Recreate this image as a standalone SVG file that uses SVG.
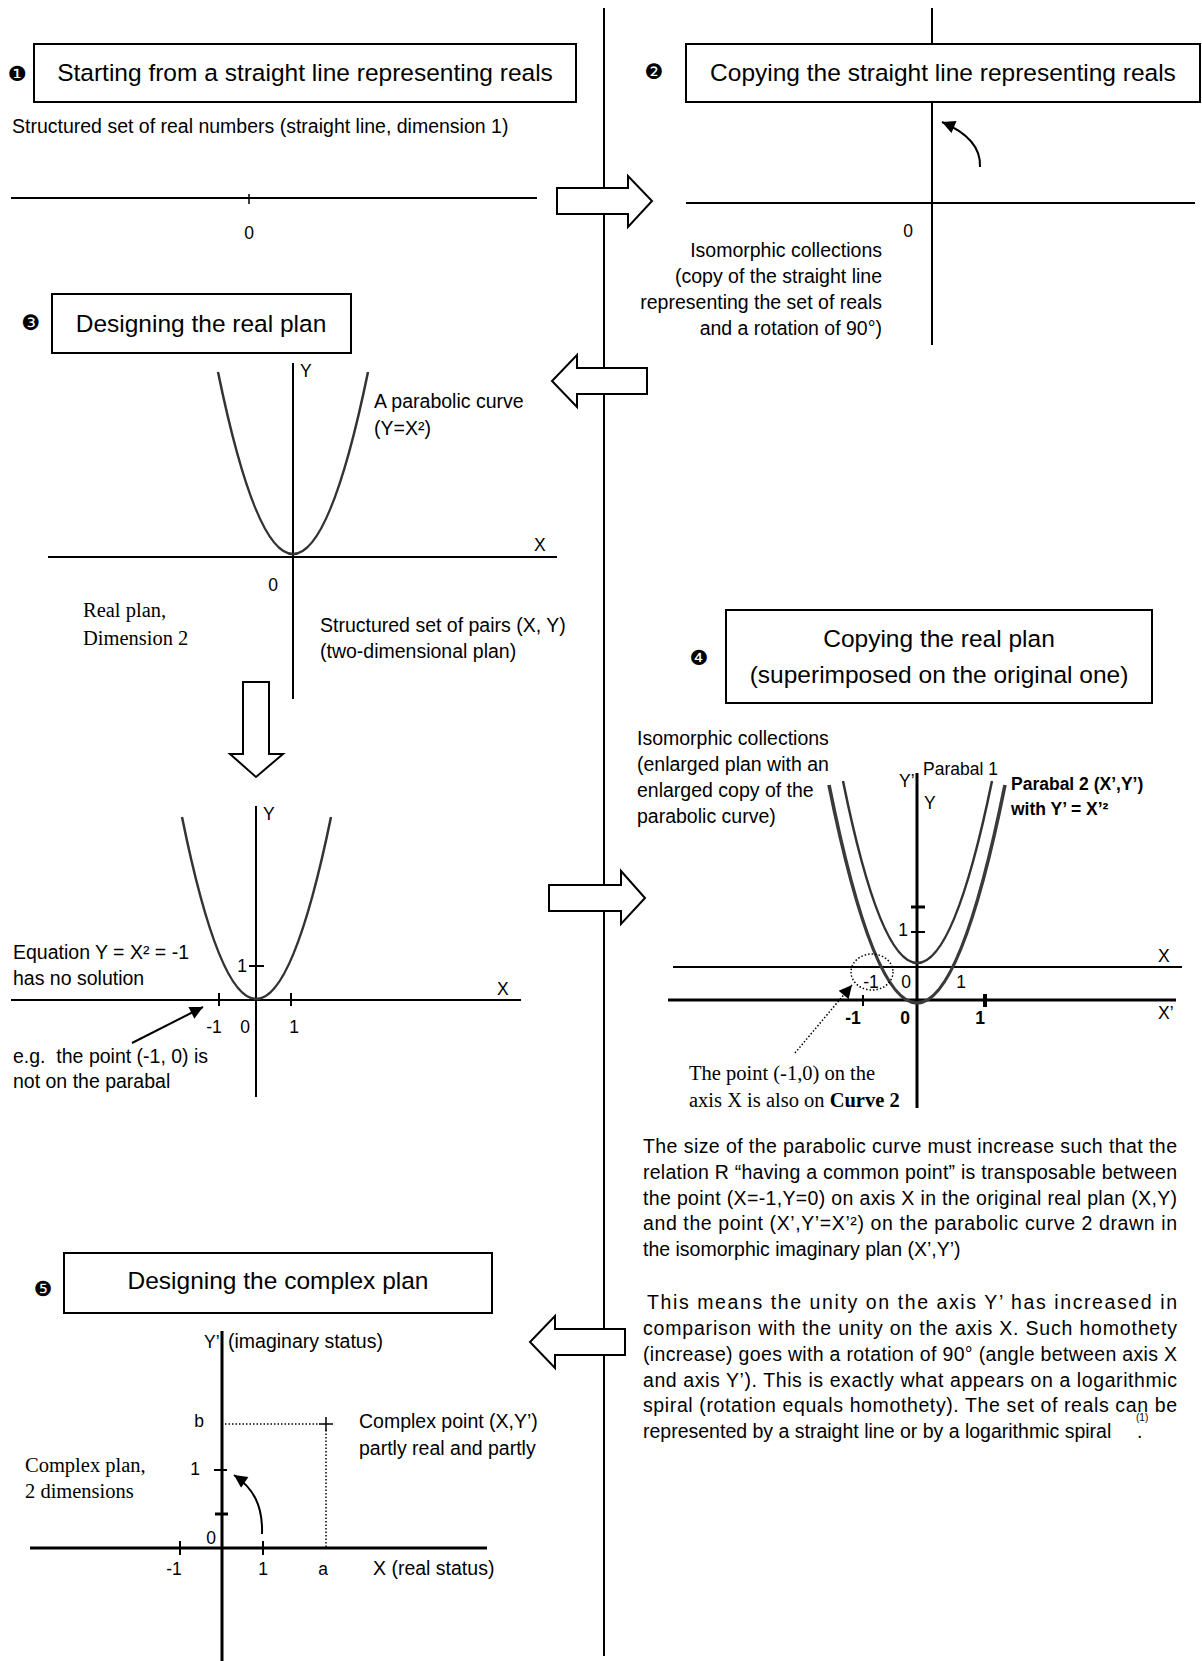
<svg xmlns="http://www.w3.org/2000/svg" width="1202" height="1661" viewBox="0 0 1202 1661">
<style>
.box{fill:#fff;stroke:#000;stroke-width:2}
.h{font-family:"Liberation Sans",Arial,sans-serif;font-size:24.5px;text-anchor:middle;fill:#000}
.t{font-family:"Liberation Sans",Arial,sans-serif;font-size:19.5px;fill:#000}
.s{font-family:"Liberation Sans",Arial,sans-serif;font-size:17.5px;fill:#000}
.c{text-anchor:middle}
.e{text-anchor:end}
.b{font-weight:bold}
.tm{font-family:"Liberation Serif","Times New Roman",serif;font-size:20.5px;fill:#000}
.ax{stroke:#000;stroke-width:2;fill:none}
.ax3{stroke:#000;stroke-width:3;fill:none}
.par{stroke:#333;stroke-width:2.5;fill:none}
.par2{stroke:#3a3a3a;stroke-width:3.6;fill:none}
.blk{fill:#fff;stroke:#000;stroke-width:2}
.dot{stroke:#000;stroke-width:1.5;fill:none;stroke-dasharray:1.5 2}
.bul{font-family:"DejaVu Sans",sans-serif;font-size:21px;text-anchor:middle;fill:#000}
</style>
<defs>
<marker id="ah" viewBox="0 0 10 10" refX="10" refY="5" markerWidth="15" markerHeight="13" markerUnits="userSpaceOnUse" orient="auto">
<path d="M0,0 L10,5 L0,10 z" fill="#000"/>
</marker>
</defs>
<rect width="1202" height="1661" fill="#fff"/>

<!-- central divider -->
<line x1="604" y1="8" x2="604" y2="1656" class="ax"/>

<g id="step1">
<line x1="932" y1="8" x2="932" y2="345" class="ax"/>
<text class="bul" x="17" y="81">❶</text>
<rect class="box" x="34" y="44" width="542" height="58"/>
<text class="h" x="305" y="81">Starting from a straight line representing reals</text>
<text class="t" x="12" y="133">Structured set of real numbers (straight line, dimension 1)</text>
<line x1="11" y1="198" x2="537" y2="198" class="ax"/>
<line x1="249" y1="194" x2="249" y2="204" stroke="#000" stroke-width="1.5"/>
<text class="s c" x="249" y="239">0</text>
</g>

<g id="step2">
<text class="bul" x="654" y="79">❷</text>
<rect class="box" x="686" y="44" width="514" height="58"/>
<text class="h" x="943" y="81">Copying the straight line representing reals</text>
<line x1="686" y1="203" x2="1195" y2="203" class="ax"/>
<path d="M980,167 C981,148 968,133 942,122" class="ax" marker-end="url(#ah)"/>
<text class="s c" x="908" y="237">0</text>
<text class="t e" x="882" y="257">Isomorphic collections</text>
<text class="t e" x="882" y="283">(copy of the straight line</text>
<text class="t e" x="882" y="309">representing the set of reals</text>
<text class="t e" x="882" y="335">and a rotation of 90°)</text>
</g>

<g id="step3">
<text class="bul" x="31" y="330">❸</text>
<rect class="box" x="52" y="294" width="299" height="59"/>
<text class="h" x="201" y="332">Designing the real plan</text>
<line x1="293" y1="363" x2="293" y2="699" class="ax"/>
<line x1="48" y1="557" x2="557" y2="557" class="ax"/>
<path d="M218,372 Q293,736 368,372" class="par"/>
<text class="s" x="300" y="377">Y</text>
<text class="s" x="534" y="551">X</text>
<text class="s c" x="273" y="591">0</text>
<text class="t" x="374" y="408">A parabolic curve</text>
<text class="t" x="374" y="435">(Y=X²)</text>
<text class="tm" x="83" y="617">Real plan,</text>
<text class="tm" x="83" y="645">Dimension 2</text>
<text class="t" x="320" y="632">Structured set of pairs (X, Y)</text>
<text class="t" x="320" y="658">(two-dimensional plan)</text>
</g>

<g id="step3b">
<line x1="256" y1="806" x2="256" y2="1097" class="ax"/>
<line x1="11" y1="1000" x2="521" y2="1000" class="ax"/>
<path d="M182,817 Q256,1181 331,817" class="par"/>
<line x1="219" y1="993" x2="219" y2="1006" class="ax"/>
<line x1="291" y1="993" x2="291" y2="1006" class="ax"/>
<line x1="249" y1="966" x2="264" y2="966" class="ax"/>
<text class="s" x="263" y="820">Y</text>
<text class="s" x="497" y="995">X</text>
<text class="s c" x="242" y="972">1</text>
<text class="s c" x="214" y="1033">-1</text>
<text class="s c" x="245" y="1033">0</text>
<text class="s c" x="294" y="1033">1</text>
<text class="t" x="13" y="959">Equation Y = X² = -1</text>
<text class="t" x="13" y="985">has no solution</text>
<line x1="132" y1="1043" x2="203" y2="1007" class="ax" marker-end="url(#ah)"/>
<text class="t" x="13" y="1063">e.g.&#160; the point (-1, 0) is</text>
<text class="t" x="13" y="1088">not on the parabal</text>
</g>

<g id="step4">
<text class="bul" x="699" y="665">❹</text>
<rect class="box" x="726" y="610" width="426" height="93"/>
<text class="h" x="939" y="647">Copying the real plan</text>
<text class="h" x="939" y="683">(superimposed on the original one)</text>
<text class="t" x="637" y="745">Isomorphic collections</text>
<text class="t" x="637" y="771">(enlarged plan with an</text>
<text class="t" x="637" y="797">enlarged copy of the</text>
<text class="t" x="637" y="823">parabolic curve)</text>
<line x1="917" y1="773" x2="917" y2="1108" class="ax3"/>
<line x1="673" y1="967" x2="1182" y2="967" class="ax"/>
<line x1="668" y1="1000" x2="1176" y2="1000" class="ax3"/>
<path d="M843,781 Q917,1145 992,781" class="par"/>
<path d="M829,785 Q917,1221 1005,785" class="par2"/>
<line x1="911" y1="907" x2="925" y2="907" class="ax3"/>
<line x1="911" y1="932" x2="925" y2="932" class="ax"/>
<line x1="863" y1="995" x2="863" y2="1006" class="ax"/>
<line x1="985" y1="994" x2="985" y2="1007" stroke="#000" stroke-width="4"/>
<ellipse cx="872" cy="972" rx="21" ry="18" class="dot"/>
<text class="s" x="899" y="787">Y’</text>
<text class="s" x="924" y="809">Y</text>
<text class="s" x="923" y="775">Parabal 1</text>
<text class="s b" x="1011" y="790">Parabal 2 (X’,Y’)</text>
<text class="s b" x="1011" y="815">with Y’ = X’²</text>
<text class="s" x="1158" y="962">X</text>
<text class="s" x="1158" y="1019">X’</text>
<text class="s c" x="903" y="936">1</text>
<text class="s c" x="871" y="988">-1</text>
<text class="s c" x="906" y="988">0</text>
<text class="s c" x="961" y="988">1</text>
<text class="s b c" x="853" y="1024">-1</text>
<text class="s b c" x="905" y="1024">0</text>
<text class="s b c" x="980" y="1024">1</text>
<line x1="795" y1="1053" x2="852" y2="985" class="dot" marker-end="url(#ah)"/>
<text class="tm" x="689" y="1080">The point (-1,0) on the</text>
<text class="tm" x="689" y="1107">axis X is also on <tspan font-weight="bold">Curve 2</tspan></text>
<text class="t" x="643" y="1153" textLength="534" lengthAdjust="spacing">The size of the parabolic curve must increase such that the</text>
<text class="t" x="643" y="1179" textLength="534" lengthAdjust="spacing">relation R “having a common point” is transposable between</text>
<text class="t" x="643" y="1205" textLength="534" lengthAdjust="spacing">the point (X=-1,Y=0) on axis X in the original real plan (X,Y)</text>
<text class="t" x="643" y="1230" textLength="534" lengthAdjust="spacing">and the point (X’,Y’=X’²) on the parabolic curve 2 drawn in</text>
<text class="t" x="643" y="1256">the isomorphic imaginary plan (X’,Y’)</text>
<text class="t" x="647" y="1309" textLength="530" lengthAdjust="spacing">This means the unity on the axis Y’ has increased in</text>
<text class="t" x="643" y="1335" textLength="534" lengthAdjust="spacing">comparison with the unity on the axis X. Such homothety</text>
<text class="t" x="643" y="1361" textLength="534" lengthAdjust="spacing">(increase) goes with a rotation of 90° (angle between axis X</text>
<text class="t" x="643" y="1387" textLength="534" lengthAdjust="spacing">and axis Y’). This is exactly what appears on a logarithmic</text>
<text class="t" x="643" y="1412" textLength="534" lengthAdjust="spacing">spiral (rotation equals homothety). The set of reals can be</text>
<text font-family="Liberation Sans,Arial,sans-serif" font-size="10px" x="1136" y="1421">(1)</text>
<text class="t" x="643" y="1438">represented by a straight line or by a logarithmic spiral</text>
<text class="t" x="1137" y="1438">.</text>
</g>

<g id="step5">
<text class="bul" x="43" y="1296">❺</text>
<rect class="box" x="64" y="1253" width="428" height="60"/>
<text class="h" x="278" y="1289">Designing the complex plan</text>
<line x1="222" y1="1331" x2="222" y2="1661" class="ax3"/>
<line x1="30" y1="1548" x2="487" y2="1548" class="ax3"/>
<line x1="214" y1="1470" x2="227" y2="1470" class="ax"/>
<line x1="215" y1="1514" x2="228" y2="1514" class="ax3"/>
<line x1="180" y1="1541" x2="180" y2="1555" class="ax"/>
<line x1="263" y1="1541" x2="263" y2="1555" class="ax"/>
<line x1="225" y1="1424" x2="320" y2="1424" class="dot"/>
<line x1="326" y1="1430" x2="326" y2="1548" class="dot"/>
<line x1="319" y1="1424" x2="333" y2="1424" stroke="#000" stroke-width="1.5"/>
<line x1="326" y1="1417" x2="326" y2="1431" stroke="#000" stroke-width="1.5"/>
<path d="M262,1534 C263,1505 253,1488 234,1475" class="ax" marker-end="url(#ah)"/>
<text class="s" x="204" y="1348">Y’</text>
<text class="t" x="228" y="1348">(imaginary status)</text>
<text class="s c" x="199" y="1427">b</text>
<text class="s c" x="195" y="1475">1</text>
<text class="s c" x="211" y="1544">0</text>
<text class="s c" x="174" y="1575">-1</text>
<text class="s c" x="263" y="1575">1</text>
<text class="s c" x="323" y="1575">a</text>
<text class="t" x="373" y="1575">X (real status)</text>
<text class="t" x="359" y="1428">Complex point (X,Y’)</text>
<text class="t" x="359" y="1455">partly real and partly</text>
<text class="tm" x="25" y="1472">Complex plan,</text>
<text class="tm" x="25" y="1498">2 dimensions</text>
</g>

<g id="connectors">
<polygon class="blk" points="557,188 628,188 628,176 652,201 628,227 628,214 557,214"/>
<polygon class="blk" points="647,368 577,368 577,355 552,381 577,407 577,394 647,394"/>
<polygon class="blk" points="243,682 269,682 269,754 283,754 256,777 230,754 243,754"/>
<polygon class="blk" points="549,885 621,885 621,871 645,898 621,924 621,911 549,911"/>
<polygon class="blk" points="625,1329 555,1329 555,1316 530,1342 555,1368 555,1355 625,1355"/>
</g>
</svg>
